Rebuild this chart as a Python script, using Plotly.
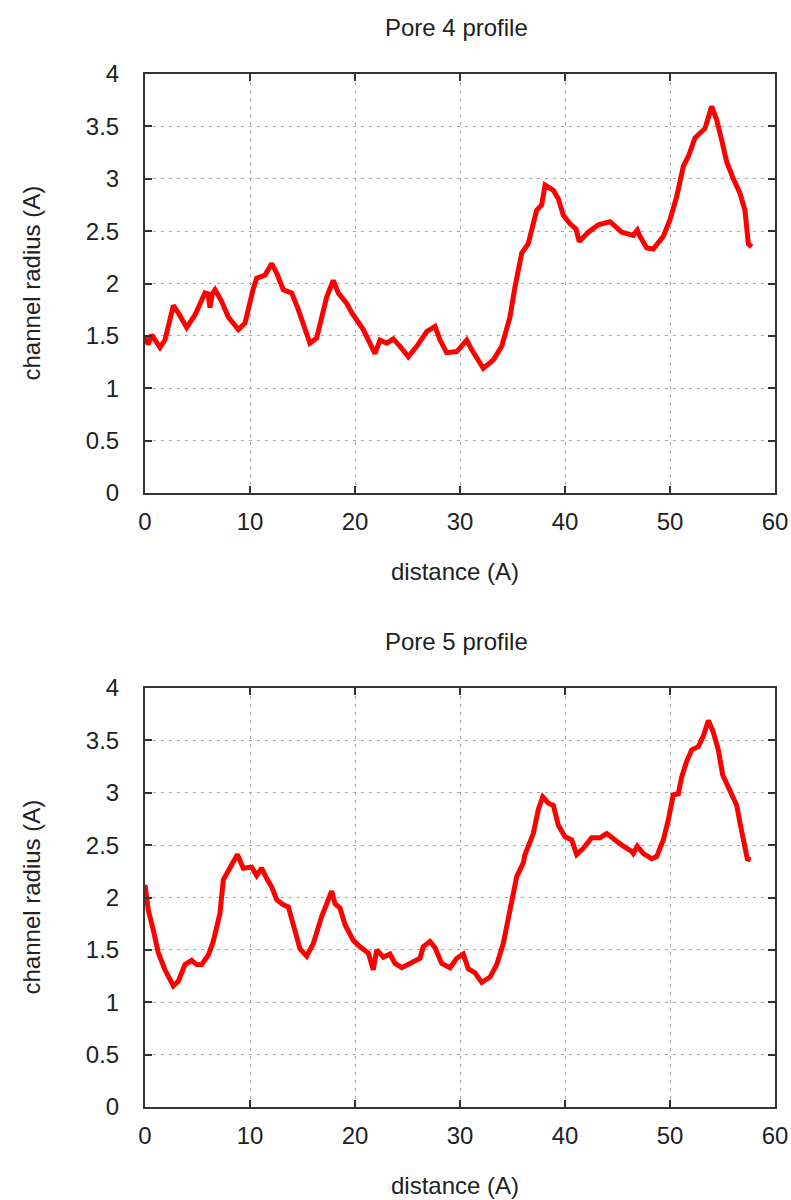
import plotly.graph_objects as go

# Pore radius profiles: distance along the channel (A) vs channel radius (A)
pore4_distance = [0.0, 0.3, 0.64, 1.43, 1.9, 2.7, 3.17, 3.97, 4.76, 5.71, 6.0, 6.19, 6.4, 6.67,
                  7.3, 7.93, 8.89, 9.52, 10.31, 10.64, 11.43, 12.07, 12.54, 13.17, 13.97, 14.6,
                  15.71, 16.35, 17.3, 17.93, 18.41, 19.21, 19.7, 20.79, 21.9, 22.38, 23.02, 23.65,
                  24.29, 25.08, 25.88, 26.35, 26.83, 27.62, 28.1, 28.73, 29.69, 30.64, 31.11,
                  32.22, 33.17, 33.97, 34.76, 35.24, 35.88, 36.5, 37.3, 37.78, 38.1, 38.89, 39.36,
                  39.84, 40.48, 41.05, 41.36, 42.22, 43.17, 44.29, 45.4, 46.5, 46.89, 47.14, 47.78,
                  48.41, 49.36, 50.0, 50.64, 51.27, 51.74, 52.38, 53.33, 53.97, 54.45, 54.92, 55.4,
                  56.03, 56.67, 57.14, 57.46, 57.78]
pore4_radius = [1.49, 1.42, 1.51, 1.39, 1.46, 1.79, 1.72, 1.58, 1.70, 1.91, 1.90, 1.77, 1.90, 1.94,
                1.83, 1.68, 1.56, 1.62, 1.95, 2.05, 2.08, 2.19, 2.10, 1.94, 1.91, 1.75,
                1.43, 1.48, 1.87, 2.03, 1.91, 1.81, 1.72, 1.56, 1.33, 1.46, 1.43, 1.47,
                1.40, 1.30, 1.40, 1.46, 1.54, 1.59, 1.46, 1.34, 1.35, 1.46, 1.37,
                1.19, 1.27, 1.40, 1.68, 1.97, 2.29, 2.38, 2.70, 2.75, 2.94, 2.89, 2.81,
                2.65, 2.57, 2.52, 2.40, 2.49, 2.56, 2.59, 2.49, 2.46, 2.51, 2.45, 2.34,
                2.33, 2.45, 2.61, 2.83, 3.12, 3.21, 3.39, 3.48, 3.69, 3.56, 3.37, 3.16,
                3.00, 2.86, 2.70, 2.38, 2.35]

pore5_distance = [0.0, 0.31, 0.79, 1.27, 1.9, 2.7, 3.17, 3.81, 4.45, 4.92, 5.4, 6.03, 6.5, 7.14,
                  7.46, 7.93, 8.57, 8.8, 9.36, 10.16, 10.64, 11.11, 11.59, 12.07, 12.54, 13.17,
                  13.65, 14.29, 14.76, 15.4, 16.03, 16.83, 17.78, 18.1, 18.57, 19.05, 19.84, 20.48,
                  21.27, 21.74, 22.07, 22.7, 23.33, 23.81, 24.45, 25.24, 26.19, 26.5, 27.14, 27.62,
                  28.26, 29.05, 29.69, 30.31, 30.79, 31.43, 32.07, 32.86, 33.5, 34.12, 34.76,
                  35.4, 36.03, 36.19, 36.98, 37.46, 37.88, 38.41, 38.89, 39.36, 40.0, 40.64, 41.11,
                  41.74, 42.54, 43.33, 43.97, 44.6, 45.55, 46.35, 46.5, 46.89, 47.46, 48.26, 48.73,
                  49.36, 49.84, 50.31, 50.79, 51.11, 51.59, 52.07, 52.7, 53.17, 53.65, 54.12, 54.6,
                  55.02, 55.71, 56.35, 56.67, 57.14, 57.36, 57.69]
pore5_radius = [2.12, 1.88, 1.69, 1.47, 1.31, 1.155, 1.20, 1.36, 1.40, 1.36, 1.36, 1.45, 1.58, 1.85,
                2.17, 2.26, 2.38, 2.41, 2.28, 2.29, 2.21, 2.28, 2.18, 2.10, 1.98, 1.93,
                1.91, 1.69, 1.51, 1.44, 1.56, 1.82, 2.06, 1.94, 1.90, 1.74, 1.59, 1.53,
                1.47, 1.31, 1.50, 1.43, 1.46, 1.37, 1.33, 1.37, 1.42, 1.53, 1.58, 1.52,
                1.37, 1.33, 1.42, 1.46, 1.32, 1.28, 1.19, 1.24, 1.36, 1.56, 1.86,
                2.20, 2.33, 2.41, 2.61, 2.84, 2.96, 2.90, 2.88, 2.69, 2.58, 2.55, 2.41,
                2.47, 2.57, 2.57, 2.61, 2.56, 2.49, 2.44, 2.42, 2.49, 2.42, 2.37, 2.39,
                2.55, 2.74, 2.98, 2.99, 3.15, 3.30, 3.41, 3.44, 3.54, 3.69, 3.58, 3.41,
                3.17, 3.03, 2.88, 2.71, 2.49, 2.37, 2.36]

panel_titles = ["Pore 4 profile", "Pore 5 profile"]
x_title = "distance (A)"
y_title = "channel radius (A)"
x_ticks = [0, 10, 20, 30, 40, 50, 60]
y_ticks = [0, 0.5, 1, 1.5, 2, 2.5, 3, 3.5, 4]
y_tick_text = ["0", "0.5", "1", "1.5", "2", "2.5", "3", "3.5", "4"]

W, H = 791, 1200
FONT = "Liberation Sans, Arial, sans-serif"
TXT = "#222222"
FS = 24

# plotting region in pixels
L, R, T, B = 145, 775, 74, 1107
PW, PH = R - L, B - T
panel_px = [(74, 493), (688, 1107)]  # (top, bottom) of each panel


def py(px_y):
    return (B - px_y) / PH


def px(px_x):
    return (px_x - L) / PW


fig = go.Figure()
series = [(pore4_distance, pore4_radius), (pore5_distance, pore5_radius)]
for i, (xs, ys) in enumerate(series):
    ax = "" if i == 0 else str(i + 1)
    fig.add_trace(go.Scatter(x=xs, y=ys, mode="lines",
                             line=dict(color="#ff0000", width=5),
                             xaxis="x" + ax, yaxis="y" + ax, showlegend=False))

common = dict(showline=True, linecolor="#333333", linewidth=2, mirror="allticks",
              ticks="inside", ticklen=7, tickwidth=1.5, tickcolor="#333333",
              showgrid=True, gridcolor="#a8a8a8", gridwidth=1, griddash="3px,5px",
              zeroline=False, automargin=False,
              tickfont=dict(family=FONT, size=FS, color=TXT))

layout = dict(width=W, height=H, margin=dict(l=L, r=W - R, t=T, b=H - B),
              paper_bgcolor="white", plot_bgcolor="white",
              font=dict(family=FONT, size=FS, color=TXT))
annotations = []
for i in range(2):
    ax = "" if i == 0 else str(i + 1)
    top_px, bot_px = panel_px[i]
    layout["xaxis" + ax] = dict(common, domain=[0, 1], range=[0, 60], tickvals=x_ticks,
                                anchor="y" + ax, ticklabelstandoff=6)
    layout["yaxis" + ax] = dict(common, domain=[py(bot_px), py(top_px)], range=[0, 4],
                                tickvals=y_ticks, ticktext=y_tick_text, anchor="x" + ax,
                                ticklabelstandoff=19)
    annotations.append(dict(text=panel_titles[i], x=px(456), y=py(top_px - 47),
                            xref="paper", yref="paper", showarrow=False,
                            xanchor="center", yanchor="middle",
                            font=dict(family=FONT, size=FS, color=TXT)))
    annotations.append(dict(text=x_title, x=px(455), y=py(bot_px + 78),
                            xref="paper", yref="paper", showarrow=False,
                            xanchor="center", yanchor="middle",
                            font=dict(family=FONT, size=FS, color=TXT)))
    annotations.append(dict(text=y_title, x=px(31), y=py((top_px + bot_px) / 2),
                            xref="paper", yref="paper", showarrow=False, textangle=-90,
                            xanchor="center", yanchor="middle",
                            font=dict(family=FONT, size=FS, color=TXT)))
layout["annotations"] = annotations
fig.update_layout(**layout)

fig.write_html("out.html")
